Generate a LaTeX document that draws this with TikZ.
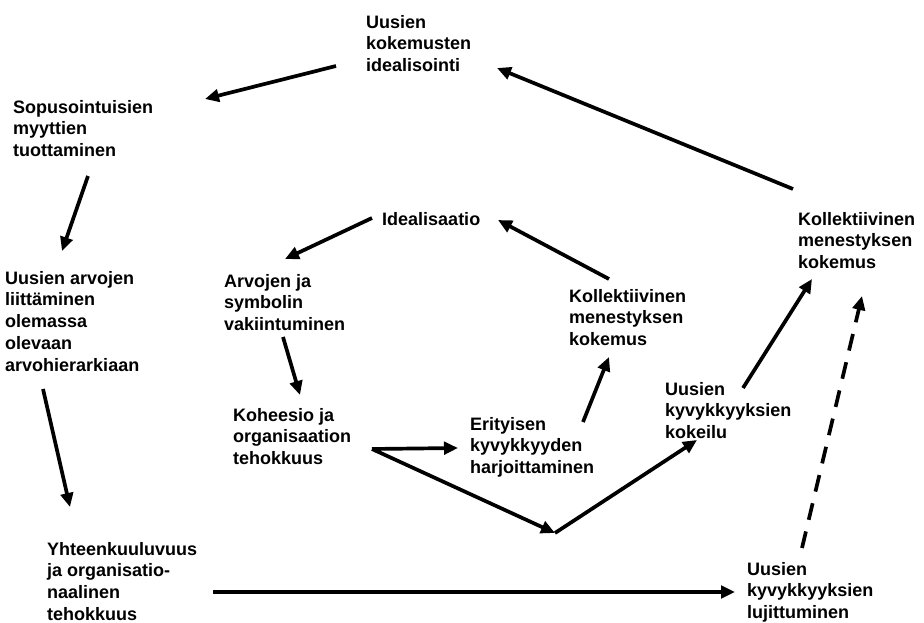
\documentclass[tikz,border=0pt]{standalone}
\usepackage{fontspec}
\setmainfont{Liberation Sans}
\usetikzlibrary{arrows.meta}
\begin{document}
\begin{tikzpicture}[x=1pt,y=-1pt,
  lbl/.style={anchor=north west,inner sep=0pt,align=left,
    font={\fontsize{18}{21.7}\selectfont\bfseries}},
  arr/.style={line width=3.7pt,-{Triangle[length=14pt,width=12.5pt]}},
  dasharr/.style={arr,dash pattern=on 17pt off 12pt}]
\useasboundingbox (0,0) rectangle (924,623);

% outer cycle
\node[lbl] (A) at (366,15)  {Uusien\\kokemusten\\idealisointi};
\node[lbl] (B) at (13,100)  {Sopusointuisien\\myyttien\\tuottaminen};
\node[lbl] (C) at (5,271)   {Uusien arvojen\\liittäminen\\olemassa\\olevaan\\arvohierarkiaan};
\node[lbl] (D) at (47,542)  {Yhteenkuuluvuus\\ja organisatio-\\naalinen\\tehokkuus};
\node[lbl] (E) at (747,562) {Uusien\\kyvykkyyksien\\lujittuminen};
\node[lbl] (K) at (798,212) {Kollektiivinen\\menestyksen\\kokemus};

% inner cycle
\node[lbl] (F) at (382,212) {Idealisaatio};
\node[lbl] (G) at (224,274) {Arvojen ja\\symbolin\\vakiintuminen};
\node[lbl] (H) at (233,408) {Koheesio ja\\organisaation\\tehokkuus};
\node[lbl] (I) at (470,417) {Erityisen\\kyvykkyyden\\harjoittaminen};
\node[lbl] (J) at (569,289) {Kollektiivinen\\menestyksen\\kokemus};
\node[lbl] (L) at (665,382) {Uusien\\kyvykkyyksien\\kokeilu};

\coordinate (V) at (555,533);

% outer connectors
\draw[arr] ([shift={(-30,51)}]A.north west) -- ([shift={(192,-1)}]B.north west);
\draw[arr] ([shift={(-5,-23)}]K.north west) -- ([shift={(131,53)}]A.north west);
\draw[arr] ([shift={(75,76)}]B.north west) -- ([shift={(57,-20)}]C.north west);
\draw[arr] ([shift={(38,118)}]C.north west) -- ([shift={(23,-35)}]D.north west);
\draw[arr] ([shift={(166,50)}]D.north west) -- ([shift={(-12,30)}]E.north west);
\draw[dasharr] ([shift={(55,-14)}]E.north west) -- ([shift={(64,84)}]K.north west);

% inner connectors
\draw[arr] ([shift={(-10,6)}]F.north west) -- ([shift={(61,-15)}]G.north west);
\draw[arr] ([shift={(40,-10)}]J.north west) -- ([shift={(116,8)}]F.north west);
\draw[arr] ([shift={(59,63)}]G.north west) -- ([shift={(67,-13)}]H.north west);
\draw[arr] ([shift={(139,41)}]H.north west) -- ([shift={(-12,31)}]I.north west);
\draw[arr] ([shift={(139,41)}]H.north west) -- (V);
\draw[arr] (V) -- ([shift={(32,58)}]L.north west);
\draw[arr] ([shift={(113,5)}]I.north west) -- ([shift={(40,68)}]J.north west);
\draw[arr] ([shift={(78,6)}]L.north west) -- ([shift={(14,67)}]K.north west);
\end{tikzpicture}
\end{document}
